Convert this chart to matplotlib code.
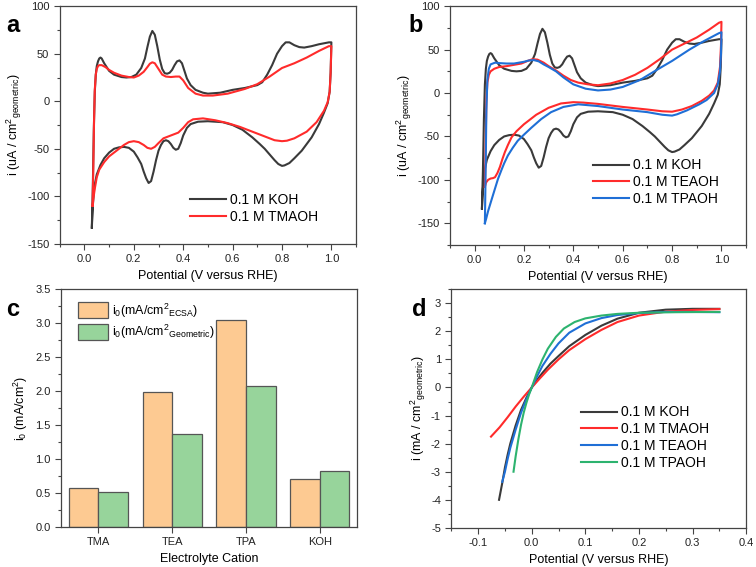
import numpy as np
import matplotlib
matplotlib.use("Agg")
import matplotlib.pyplot as plt
from matplotlib.ticker import MultipleLocator, FormatStrFormatter

plt.rcParams['font.family'] = ['Liberation Sans', 'DejaVu Sans']
plt.rcParams['mathtext.fontset'] = 'custom'
plt.rcParams['mathtext.rm'] = 'Liberation Sans'
plt.rcParams['mathtext.it'] = 'Liberation Sans'
plt.rcParams['axes.unicode_minus'] = False

# ---------------- Panel a/b : cyclic voltammograms ----------------
koh_E = [0.03, 0.034, 0.038, 0.042, 0.046, 0.05, 0.055, 0.06, 0.065, 0.07, 0.08, 0.09, 0.10, 0.12,
         0.15, 0.17, 0.19, 0.21, 0.23, 0.245, 0.255, 0.265, 0.275, 0.285, 0.295, 0.305, 0.315,
         0.325, 0.335, 0.345, 0.355, 0.365, 0.375, 0.385, 0.395, 0.405, 0.415, 0.43, 0.45, 0.48,
         0.50, 0.55, 0.60, 0.65, 0.70, 0.72, 0.74, 0.76, 0.78, 0.80, 0.815, 0.83, 0.85, 0.87, 0.89,
         0.92, 0.95, 0.99, 1.0,
         0.997, 0.993, 0.985, 0.97, 0.95, 0.92, 0.88, 0.85, 0.83, 0.81, 0.80, 0.785, 0.77, 0.75,
         0.73, 0.71, 0.68, 0.64, 0.60, 0.56, 0.50, 0.46, 0.43, 0.415, 0.40, 0.39, 0.38, 0.37, 0.36,
         0.35, 0.34, 0.33, 0.32, 0.31, 0.30, 0.29, 0.28, 0.27, 0.26, 0.25, 0.24, 0.23, 0.215, 0.20,
         0.18, 0.16, 0.14, 0.12, 0.10, 0.08, 0.065, 0.05, 0.04, 0.034, 0.03]
koh_i = [-133, -90, -30, 10, 28, 37, 42, 45, 46, 45, 40, 36, 32, 28,
         25.5, 25, 25.5, 28, 35, 45, 57, 68, 74, 70, 58, 44, 34,
         29.5, 29, 30, 33, 38, 42, 43, 40, 32, 24, 17, 12, 9,
         8, 9, 12, 14, 17, 20, 28, 38, 50, 58, 62, 62, 59, 57, 56.5,
         58, 60, 62, 62,
         30, 10, -2, -12, -24, -38, -52, -60, -65, -67.5, -68, -66, -62, -56,
         -50, -45, -38, -30, -25, -22, -21, -21.5, -24, -28, -36, -44, -50, -51, -49,
         -45, -42, -41, -42, -46, -52, -62, -74, -84, -86, -81, -74, -66, -59, -53,
         -49, -48, -48.5, -50, -54, -60, -67, -77, -90, -110, -133]

tmaoh_E = [0.033, 0.036, 0.039, 0.042, 0.046, 0.05, 0.055, 0.06, 0.07, 0.085, 0.10, 0.12, 0.15,
           0.18, 0.20, 0.22, 0.24, 0.255, 0.265, 0.275, 0.285, 0.30, 0.315, 0.33, 0.35, 0.37,
           0.385, 0.40, 0.42, 0.45, 0.48, 0.52, 0.58, 0.65, 0.70, 0.75, 0.80, 0.85, 0.90, 0.95,
           0.99, 1.0,
           0.997, 0.993, 0.985, 0.97, 0.94, 0.90, 0.85, 0.82, 0.80, 0.77, 0.73, 0.68, 0.63, 0.58,
           0.53, 0.48, 0.44, 0.42, 0.40, 0.38, 0.35, 0.32, 0.30, 0.285, 0.27, 0.255, 0.24, 0.22,
           0.20, 0.18, 0.16, 0.13, 0.10, 0.08, 0.06, 0.05, 0.042, 0.036, 0.033]
tmaoh_i = [-110, -70, -20, 12, 28, 34, 37, 38, 38, 36, 33, 30, 27,
           25.5, 25, 27, 31, 36, 39.5, 41, 40, 34, 28, 26, 25.5, 26,
           26, 22, 14, 8, 6, 6, 8, 13, 18, 26, 35, 40, 46, 53,
           58, 58,
           30, 10, -1, -10, -22, -32, -39, -41.5, -42, -41, -37, -32, -27, -23,
           -20, -18, -19, -22, -28, -33, -36, -39, -44, -48, -50, -49, -46, -43,
           -42, -43, -46, -52, -58, -64, -72, -80, -92, -103, -110]

teaoh_E = [0.042, 0.045, 0.048, 0.052, 0.058, 0.065, 0.08, 0.10, 0.13, 0.16, 0.19, 0.215, 0.235,
           0.255, 0.28, 0.30, 0.33, 0.36, 0.39, 0.42, 0.46, 0.50, 0.55, 0.60, 0.65, 0.70, 0.75,
           0.80, 0.85, 0.90, 0.95, 0.99, 1.0,
           0.998, 0.994, 0.985, 0.97, 0.95, 0.92, 0.88, 0.84, 0.80, 0.76, 0.70, 0.60, 0.50, 0.44,
           0.40, 0.35, 0.30, 0.25, 0.20, 0.17, 0.15, 0.135, 0.123, 0.113, 0.103, 0.093, 0.083,
           0.075, 0.065, 0.055, 0.047, 0.042]
teaoh_i = [-108, -60, -10, 12, 21, 25, 28, 30, 31, 32.5, 34, 37, 39,
           38.5, 35, 31, 26, 20, 15, 12, 10, 9, 11, 15, 21, 29, 39,
           50, 57, 64, 73, 81, 82,
           55, 30, 12, 3, -3, -9, -15, -19, -21.5, -21, -19, -16, -12.5, -11,
           -10.5, -12, -17, -25, -36, -44, -51, -60, -68, -76, -85, -92, -97,
           -98, -98.5, -100, -103, -108]

tpaoh_E = [0.042, 0.045, 0.048, 0.052, 0.058, 0.065, 0.083, 0.10, 0.13, 0.16, 0.20, 0.22, 0.24,
           0.26, 0.28, 0.30, 0.33, 0.36, 0.40, 0.45, 0.50, 0.55, 0.60, 0.67, 0.74, 0.80, 0.87,
           0.93, 0.99, 1.0,
           0.998, 0.994, 0.985, 0.97, 0.94, 0.91, 0.86, 0.82, 0.80, 0.76, 0.70, 0.60, 0.50, 0.42,
           0.36, 0.31, 0.27, 0.23, 0.20, 0.175, 0.155, 0.135, 0.12, 0.11, 0.095, 0.083, 0.07,
           0.055, 0.047, 0.042]
tpaoh_i = [-150, -90, -20, 15, 28, 33, 35, 34.5, 34, 34, 36, 37.5, 38,
           36.5, 33, 30, 25, 18, 10, 5, 3, 4, 7, 15, 27, 37, 50,
           60, 69, 70,
           45, 25, 10, 0, -8, -13, -20, -24.5, -26, -25, -22, -19, -15, -13,
           -16, -22, -30, -40, -48, -55, -63, -72, -81, -88, -99, -110, -122,
           -136, -145, -150]

# ---------------- Panel c : exchange current densities ----------------
cations = ['TMA', 'TEA', 'TPA', 'KOH']
i0_ecsa = [0.57, 1.99, 3.04, 0.70]
i0_geo = [0.52, 1.37, 2.07, 0.82]

# ---------------- Panel d : micro-polarization ----------------
d_koh_E = [-0.061, -0.055, -0.05, -0.045, -0.04, -0.03, -0.02, -0.01, 0.0, 0.01, 0.02, 0.035, 0.05,
           0.07, 0.10, 0.13, 0.16, 0.20, 0.25, 0.30, 0.35]
d_koh_i = [-4.0, -3.4, -2.85, -2.4, -2.0, -1.35, -0.8, -0.37, 0.0, 0.27, 0.52, 0.85, 1.12,
           1.47, 1.87, 2.2, 2.45, 2.66, 2.77, 2.8, 2.8]
d_tma_E = [-0.076, -0.06, -0.045, -0.03, -0.015, 0.0, 0.015, 0.03, 0.05, 0.07, 0.10, 0.13, 0.16,
           0.20, 0.25, 0.30, 0.35]
d_tma_i = [-1.75, -1.42, -1.06, -0.68, -0.33, 0.0, 0.32, 0.63, 1.0, 1.33, 1.72, 2.05, 2.33,
           2.56, 2.7, 2.76, 2.79]
d_tea_E = [-0.055, -0.05, -0.045, -0.04, -0.03, -0.02, -0.01, 0.0, 0.01, 0.02, 0.035, 0.05, 0.07,
           0.10, 0.13, 0.16, 0.20, 0.25, 0.30, 0.35]
d_tea_i = [-3.36, -3.0, -2.55, -2.15, -1.5, -0.9, -0.42, 0.0, 0.4, 0.77, 1.2, 1.57, 1.95,
           2.28, 2.47, 2.58, 2.65, 2.69, 2.69, 2.68]
d_tpa_E = [-0.034, -0.03, -0.025, -0.02, -0.015, -0.01, -0.005, 0.0, 0.01, 0.02, 0.03, 0.045,
           0.06, 0.08, 0.10, 0.13, 0.16, 0.20, 0.27, 0.35]
d_tpa_i = [-3.0, -2.45, -1.85, -1.33, -0.9, -0.55, -0.25, 0.0, 0.55, 1.0, 1.38, 1.8,
           2.1, 2.33, 2.46, 2.56, 2.62, 2.66, 2.68, 2.69]

c_black = '#3a3a3a'
c_red = '#ff2b2b'
c_blue = '#1f6fd6'
c_green = '#2db36f'
spine_c = '#444444'

fig = plt.figure(figsize=(7.56, 5.67), dpi=100)


def style(ax, xmaj, xmin, ymaj, ymin, xminor=True):
    for s in ax.spines.values():
        s.set_color(spine_c)
        s.set_linewidth(0.9)
    ax.xaxis.set_major_locator(MultipleLocator(xmaj))
    ax.yaxis.set_major_locator(MultipleLocator(ymaj))
    if xminor:
        ax.xaxis.set_minor_locator(MultipleLocator(xmin))
    ax.yaxis.set_minor_locator(MultipleLocator(ymin))
    ax.tick_params(which='both', direction='out', top=False, right=False,
                   colors=spine_c, labelcolor='#222222', labelsize=8, width=0.8)
    ax.tick_params(which='major', length=4)
    ax.tick_params(which='minor', length=2.5)


lw = 1.5

# Panel a
axa = fig.add_axes([0.079, 0.570, 0.392, 0.419])
axa.plot(koh_E, koh_i, color=c_black, lw=lw, label='0.1 M KOH')
axa.plot(tmaoh_E, tmaoh_i, color=c_red, lw=lw, label='0.1 M TMAOH')
axa.set_xlim(-0.1, 1.1)
axa.set_ylim(-150, 100)
style(axa, 0.2, 0.1, 50, 25)
axa.xaxis.set_major_formatter(FormatStrFormatter('%.1f'))
axa.set_xlabel('Potential (V versus RHE)', fontsize=9, labelpad=4)
axa.set_ylabel(r'i (uA / cm$^{2}$$_{\mathrm{geometric}}$)', fontsize=9, labelpad=2)
axa.legend(loc='lower left', bbox_to_anchor=(0.42, 0.06), frameon=False, fontsize=10,
           handlelength=2.6, handletextpad=0.3, labelspacing=0.25, borderaxespad=0)

# Panel b
axb = fig.add_axes([0.595, 0.568, 0.392, 0.421])
axb.plot(koh_E, koh_i, color=c_black, lw=lw, label='0.1 M KOH')
axb.plot(teaoh_E, teaoh_i, color=c_red, lw=lw, label='0.1 M TEAOH')
axb.plot(tpaoh_E, tpaoh_i, color=c_blue, lw=lw, label='0.1 M TPAOH')
axb.set_xlim(-0.1, 1.1)
axb.set_ylim(-175, 100)
style(axb, 0.2, 0.1, 50, 25)
axb.xaxis.set_major_formatter(FormatStrFormatter('%.1f'))
axb.set_xlabel('Potential (V versus RHE)', fontsize=9, labelpad=4)
axb.set_ylabel(r'i (uA / cm$^{2}$$_{\mathrm{geometric}}$)', fontsize=9, labelpad=2)
axb.legend(loc='lower left', bbox_to_anchor=(0.465, 0.14), frameon=False, fontsize=10,
           handlelength=2.6, handletextpad=0.3, labelspacing=0.2, borderaxespad=0)

# Panel c
axc = fig.add_axes([0.081, 0.0705, 0.391, 0.4195])
x = np.arange(len(cations))
w = 0.4
axc.bar(x - w / 2, i0_ecsa, width=w, color='#fdca92', edgecolor='#555555', linewidth=0.9,
        label=r'i$_0$(mA/cm$^{2}$$_{\mathrm{ECSA}}$)')
axc.bar(x + w / 2, i0_geo, width=w, color='#97d49b', edgecolor='#555555', linewidth=0.9,
        label=r'i$_0$(mA/cm$^{2}$$_{\mathrm{Geometric}}$)')
axc.set_xlim(-0.5, 3.5)
axc.set_ylim(0, 3.5)
style(axc, 1, 1, 0.5, 0.25, xminor=False)
axc.set_xticks(x)
axc.set_xticklabels(cations)
axc.yaxis.set_major_formatter(FormatStrFormatter('%.1f'))
axc.set_xlabel('Electrolyte Cation', fontsize=9, labelpad=4)
axc.set_ylabel(r'i$_0$ (mA/cm$^{2}$)', fontsize=9, labelpad=4)
axc.legend(loc='upper left', bbox_to_anchor=(0.04, 0.97), frameon=False, fontsize=9,
           handlelength=2.4, handleheight=1.6, handletextpad=0.3, labelspacing=0.25, borderaxespad=0)

# Panel d
axd = fig.add_axes([0.597, 0.069, 0.390, 0.421])
axd.plot(d_koh_E, d_koh_i, color=c_black, lw=lw, label='0.1 M KOH')
axd.plot(d_tma_E, d_tma_i, color=c_red, lw=lw, label='0.1 M TMAOH')
axd.plot(d_tea_E, d_tea_i, color=c_blue, lw=lw, label='0.1 M TEAOH')
axd.plot(d_tpa_E, d_tpa_i, color=c_green, lw=lw, label='0.1 M TPAOH')
axd.set_xlim(-0.15, 0.4)
axd.set_ylim(-5, 3.5)
style(axd, 0.1, 0.05, 1, 0.5)
axd.set_xlabel('Potential (V versus RHE)', fontsize=9, labelpad=4)
axd.set_ylabel(r'i (mA / cm$^{2}$$_{\mathrm{geometric}}$)', fontsize=9, labelpad=2)
axd.legend(loc='lower left', bbox_to_anchor=(0.42, 0.22), frameon=False, fontsize=10,
           handlelength=2.6, handletextpad=0.3, labelspacing=0.2, borderaxespad=0)

# panel letters
for lab, xx, yy in [('a', 0.008, 0.975), ('b', 0.540, 0.975), ('c', 0.008, 0.475), ('d', 0.545, 0.475)]:
    fig.text(xx, yy, lab, fontsize=17, fontweight='bold', va='top', ha='left')

fig.savefig('out.png', dpi=100)
